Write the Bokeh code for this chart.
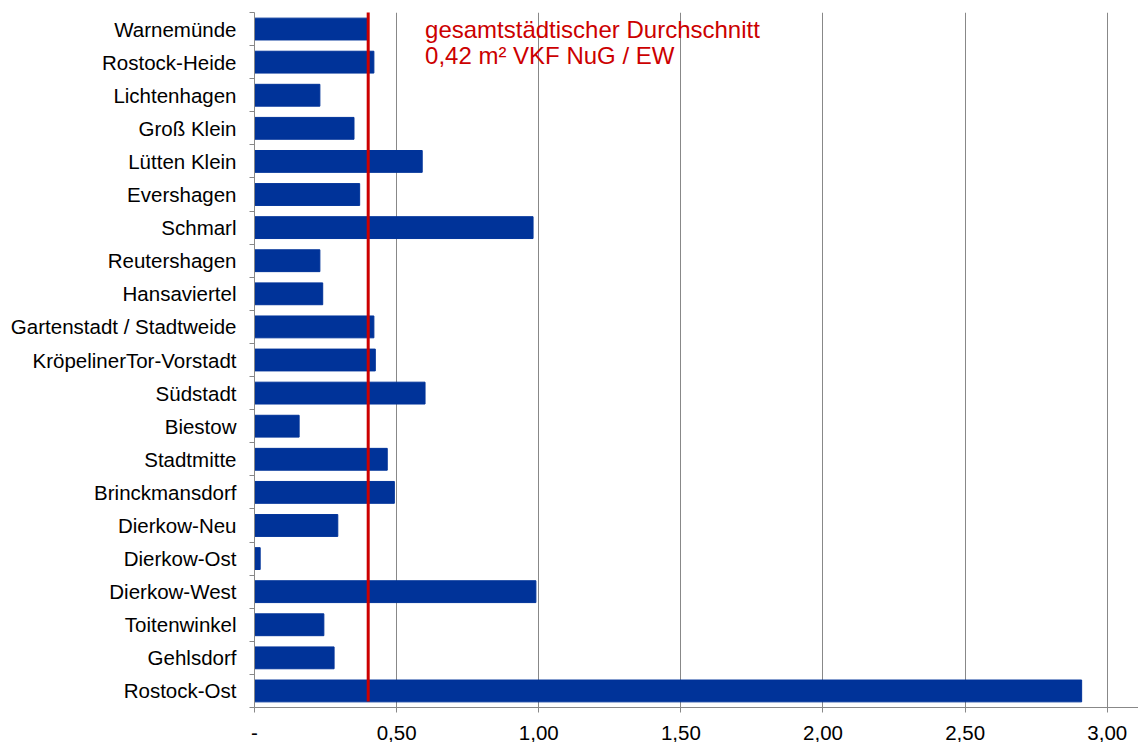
from bokeh.plotting import figure
from bokeh.models import Range1d, FixedTicker, Label
from bokeh.embed import file_html
from bokeh.resources import INLINE

districts = ["Warnemünde", "Rostock-Heide", "Lichtenhagen", "Groß Klein", "Lütten Klein",
             "Evershagen", "Schmarl", "Reutershagen", "Hansaviertel",
             "Gartenstadt / Stadtweide", "KröpelinerTor-Vorstadt", "Südstadt", "Biestow",
             "Stadtmitte", "Brinckmansdorf", "Dierkow-Neu", "Dierkow-Ost", "Dierkow-West",
             "Toitenwinkel", "Gehlsdorf", "Rostock-Ost"]
values = [0.40, 0.42, 0.23, 0.35, 0.59, 0.37, 0.98, 0.23, 0.24, 0.42, 0.425, 0.60, 0.157,
          0.467, 0.492, 0.293, 0.02, 0.99, 0.244, 0.28, 2.91]
city_average = 0.40
x_ticks = [0, 0.5, 1.0, 1.5, 2.0, 2.5, 3.0]
x_tick_labels = ["-", "0,50", "1,00", "1,50", "2,00", "2,50", "3,00"]
note_lines = ["gesamtstädtischer Durchschnitt", "0,42 m² VKF NuG / EW"]

n = len(districts)
ypos = list(range(n))

p = figure(width=1138, height=742, output_backend="svg", toolbar_location=None,
           x_range=Range1d(0, 3.11), y_range=Range1d(n - 0.5, -0.5),
           min_border_left=254, min_border_right=0, min_border_top=12, min_border_bottom=34)
p.outline_line_color = None
p.background_fill_color = "white"
p.border_fill_color = "white"

p.hbar(y=ypos, right=values, left=0, height=0.66, color="#003399")

# red average line
p.segment(x0=[city_average], x1=[city_average], y0=[-0.59], y1=[n - 0.68],
          line_color="#cc0000", line_width=3)

# axes
grey = "#888888"
p.xaxis.ticker = FixedTicker(ticks=x_ticks)
p.xaxis.major_label_overrides = {t: l for t, l in zip(x_ticks, x_tick_labels)}
p.xaxis.axis_line_color = grey
p.xaxis.major_tick_line_color = grey
p.xaxis.major_tick_out = 5
p.xaxis.major_tick_in = 0
p.xaxis.minor_tick_line_color = None
p.xaxis.major_label_standoff = 13
p.xaxis.major_label_text_font = "Liberation Sans"
p.xaxis.major_label_text_font_size = "20.5px"
p.xaxis.major_label_text_color = "black"

p.yaxis.ticker = FixedTicker(ticks=ypos, minor_ticks=[i - 0.5 for i in range(n + 1)])
p.yaxis.major_label_overrides = {i: d for i, d in zip(ypos, districts)}
p.yaxis.axis_line_color = grey
p.yaxis.major_tick_line_color = None
p.yaxis.major_tick_out = 0
p.yaxis.major_tick_in = 0
p.yaxis.minor_tick_line_color = grey
p.yaxis.minor_tick_out = 5
p.yaxis.minor_tick_in = 0
p.yaxis.major_label_standoff = 13
p.yaxis.major_label_text_font = "Liberation Sans"
p.yaxis.major_label_text_font_size = "20.5px"
p.yaxis.major_label_text_color = "black"

p.xgrid.ticker = FixedTicker(ticks=x_ticks[1:])
p.xgrid.grid_line_color = grey
p.xgrid.grid_line_width = 1
p.ygrid.grid_line_color = None

for k, txt in enumerate(note_lines):
    p.add_layout(Label(x=0.60, y=0.01 + k * 0.785, text=txt, text_color="#cc0000",
                       text_font="Liberation Sans", text_font_size="24px",
                       text_baseline="alphabetic", text_align="left"))

open("out.html", "w").write(file_html(p, INLINE))
